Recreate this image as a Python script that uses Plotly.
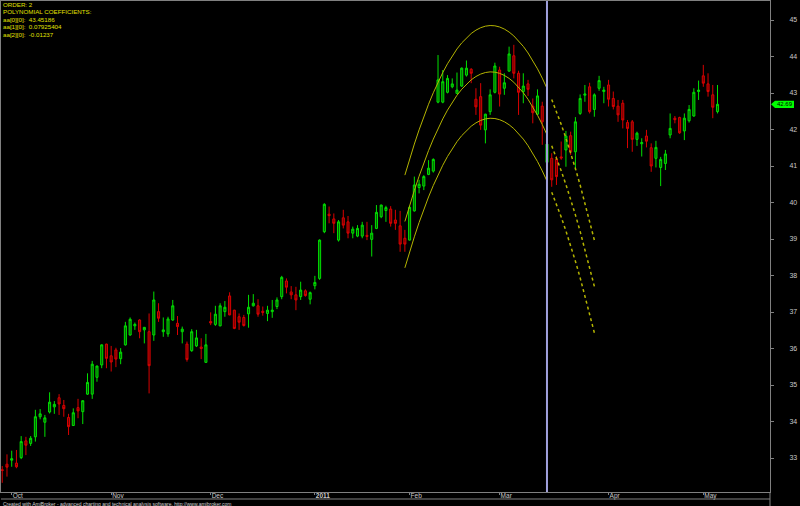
import pandas as pd
import plotly.graph_objects as go

# ---------------- data ----------------
holidays = ["2010-11-25", "2010-12-24", "2011-01-17", "2011-02-21", "2011-04-22"]
dates = [d.strftime("%Y-%m-%d") for d in pd.bdate_range("2010-09-29", "2011-05-05")
         if d.strftime("%Y-%m-%d") not in holidays]

opens = [32.68, 32.83, 32.94, 32.86, 33.01, 33.47, 33.40, 33.58, 34.13, 33.98,
         34.26, 34.40, 34.65, 34.44, 34.11, 33.89, 34.38, 34.27, 34.75, 34.75,
         35.21, 35.55, 36.12, 35.80, 35.96, 35.72, 36.10, 36.37, 36.62, 36.78,
         36.51, 36.46, 36.37, 37.01, 36.46, 36.40, 36.78, 36.69, 36.46, 36.12,
         35.94, 36.07, 36.04, 35.62, 36.74, 36.66, 36.62, 37.01, 37.44, 37.05,
         36.87, 36.85, 36.95, 37.17, 37.17, 37.02, 36.96, 37.01, 37.15, 37.42,
         37.85, 37.55, 37.47, 37.42, 37.58, 37.35, 37.72, 37.92, 39.20, 39.68,
         39.55, 38.97, 39.58, 39.47, 39.16, 39.08, 39.08, 39.10, 38.99, 39.29,
         39.61, 39.78, 39.82, 39.52, 39.36, 39.02, 38.97, 39.77, 40.41, 40.45,
         40.77, 40.86, 42.75, 42.75, 43.02, 43.17, 42.99, 43.19, 43.49, 43.65,
         42.83, 42.90, 41.99, 42.49, 43.02, 43.63, 43.13, 43.60, 44.02, 43.54,
         43.04, 43.25, 42.64, 42.42, 42.64, 41.10, 41.21, 41.19, 41.25, 41.44,
         41.83, 41.39, 42.44, 42.94, 43.17, 42.55, 43.13, 43.04, 43.22, 42.85,
         42.64, 42.72, 42.19, 42.21, 41.73, 41.61, 41.82, 41.50, 41.21, 40.96,
         41.07, 41.85, 42.31, 42.33, 41.96, 42.24, 42.37, 43.04, 43.47, 43.25,
         42.95, 42.49]
highs = [32.78, 33.10, 33.20, 33.22, 33.60, 33.58, 33.60, 34.32, 34.34, 34.18,
         34.80, 34.56, 34.75, 34.59, 34.21, 34.36, 34.62, 34.58, 35.32, 35.66,
         35.53, 36.11, 36.13, 36.07, 36.02, 36.01, 36.73, 36.85, 36.71, 36.80,
         36.59, 36.96, 37.56, 37.24, 36.85, 36.87, 37.33, 36.89, 36.60, 36.19,
         36.53, 36.51, 36.28, 36.40, 36.99, 37.17, 37.24, 37.30, 37.54, 37.06,
         36.96, 36.92, 37.47, 37.49, 37.35, 37.15, 37.17, 37.33, 37.40, 37.99,
         37.92, 37.71, 37.69, 37.83, 37.62, 37.56, 37.99, 38.99, 39.98, 39.89,
         39.70, 39.52, 39.80, 39.63, 39.34, 39.38, 39.47, 39.47, 39.38, 39.93,
         39.94, 39.91, 39.90, 39.80, 39.77, 39.25, 39.91, 40.71, 40.62, 40.75,
         41.16, 41.21, 44.04, 43.63, 43.49, 43.40, 43.56, 43.70, 43.89, 43.68,
         43.13, 43.27, 42.43, 43.10, 43.83, 43.72, 43.54, 44.27, 44.32, 43.61,
         43.54, 43.36, 42.85, 43.10, 42.76, 41.76, 41.35, 41.27, 41.67, 41.96,
         41.94, 42.34, 42.96, 43.22, 43.28, 42.99, 43.47, 43.17, 43.36, 43.04,
         42.81, 42.81, 42.26, 42.26, 41.94, 41.76, 41.99, 41.62, 41.69, 41.25,
         41.44, 42.44, 42.37, 42.35, 42.44, 42.67, 43.13, 43.34, 43.77, 43.54,
         43.22, 43.22]
lows = [32.32, 32.49, 32.76, 32.72, 32.97, 33.08, 33.33, 33.45, 34.06, 33.58,
        34.22, 34.21, 34.18, 34.13, 33.63, 33.88, 34.09, 33.93, 34.73, 34.62,
        35.09, 35.46, 35.46, 35.37, 35.49, 35.57, 36.08, 36.35, 36.51, 36.28,
        36.14, 34.77, 36.21, 36.73, 36.32, 36.32, 36.76, 36.37, 36.14, 35.64,
        35.91, 36.04, 35.71, 35.61, 36.64, 36.62, 36.61, 36.87, 36.91, 36.53,
        36.51, 36.60, 36.57, 37.15, 36.87, 36.90, 36.75, 36.84, 37.08, 37.35,
        37.51, 37.35, 37.05, 37.33, 37.42, 37.21, 37.62, 37.88, 39.16, 39.43,
        39.16, 38.93, 39.29, 39.02, 39.02, 39.05, 39.02, 38.97, 38.52, 39.27,
        39.57, 39.47, 39.34, 39.25, 38.65, 38.65, 38.96, 39.75, 40.25, 40.34,
        40.75, 40.82, 42.72, 42.72, 42.99, 43.13, 42.97, 43.17, 43.45, 43.27,
        42.40, 41.99, 41.62, 42.40, 42.99, 42.63, 42.95, 43.58, 43.40, 42.40,
        42.72, 42.92, 42.17, 42.40, 41.58, 40.80, 40.43, 40.48, 41.17, 40.98,
        41.30, 40.89, 42.40, 42.76, 42.44, 42.35, 43.06, 42.72, 42.63, 42.55,
        42.21, 42.03, 41.49, 41.39, 41.55, 41.26, 41.51, 40.84, 40.96, 40.45,
        40.89, 41.76, 42.17, 41.88, 41.71, 42.19, 42.35, 42.81, 43.17, 42.90,
        42.31, 42.44]
closes = [32.66, 32.75, 32.98, 32.76, 33.45, 33.35, 33.54, 34.13, 34.21, 34.10,
          34.53, 34.47, 34.48, 34.35, 33.86, 34.24, 34.29, 34.57, 35.07, 35.57,
          35.52, 36.10, 35.73, 35.63, 35.71, 35.90, 36.62, 36.80, 36.66, 36.46,
          36.58, 35.53, 37.33, 36.83, 36.51, 36.81, 37.17, 36.60, 36.53, 35.70,
          36.46, 36.29, 36.00, 36.10, 36.70, 36.94, 37.17, 37.13, 36.92, 36.55,
          36.72, 36.63, 37.13, 37.24, 36.94, 36.99, 37.05, 37.05, 37.33, 37.95,
          37.68, 37.47, 37.33, 37.60, 37.45, 37.53, 37.81, 38.97, 39.95, 39.64,
          39.43, 39.47, 39.38, 39.16, 39.27, 39.29, 39.38, 39.07, 39.16, 39.73,
          39.93, 39.86, 39.43, 39.43, 38.86, 38.86, 39.87, 40.48, 40.50, 40.71,
          40.94, 41.18, 43.36, 43.31, 43.40, 43.25, 43.08, 43.68, 43.68, 43.54,
          42.62, 42.12, 42.42, 42.95, 43.74, 42.97, 43.28, 44.07, 43.54, 43.02,
          43.19, 43.10, 42.46, 42.92, 42.21, 41.60, 40.62, 40.71, 41.22, 41.82,
          41.39, 42.21, 42.85, 42.97, 42.49, 42.95, 43.34, 43.08, 42.83, 42.63,
          42.40, 42.26, 42.03, 41.73, 41.90, 41.64, 41.68, 41.00, 41.51, 41.18,
          41.33, 42.03, 42.27, 41.91, 42.31, 42.55, 43.02, 43.08, 43.27, 43.04,
          42.61, 42.69]

# polynomial fit shown on the chart
poly_order = 2
poly_coefs = [43.45186, 0.07925404, -0.01237]
fit_first, fit_center, fit_last, extrap_last = 85, 100, 115, 125
band_width = 1.27

month_labels = {"2010-10": "Oct", "2010-11": "Nov", "2010-12": "Dec", "2011-01": "<b>2011</b>",
                "2011-02": "Feb", "2011-03": "Mar", "2011-04": "Apr", "2011-05": "May"}
y_ticks = list(range(33, 46))

# ---------------- helpers ----------------
W, H = 800, 506
ML, MR, MT, MB = 1, 30, 1, 14
PW, PH = W - ML - MR, H - MT - MB


def px_x(px):
    return (px - ML) / PW


def px_y(py):
    return (H - MB - py) / PH


def poly(t, off=0.0):
    return sum(c * t ** k for k, c in enumerate(poly_coefs)) + off


# ---------------- figure ----------------
fig = go.Figure()
fig.add_trace(go.Candlestick(
    x=dates, open=opens, high=highs, low=lows, close=closes,
    increasing=dict(line=dict(color="#00e000", width=1), fillcolor="#006000"),
    decreasing=dict(line=dict(color="#d80000", width=1), fillcolor="#700000"),
    whiskerwidth=0, hoverinfo="x+y",
))

curve_color = "#b4b400"
solid_idx = list(range(fit_first, fit_last + 1))
dot_idx = list(range(fit_last + 1, extrap_last + 1))
for off in (band_width, 0.0, -band_width):
    fig.add_trace(go.Scatter(
        x=[dates[i] for i in solid_idx],
        y=[poly(i - fit_center, off) for i in solid_idx],
        mode="lines", line=dict(color=curve_color, width=1), hoverinfo="skip"))
    fig.add_trace(go.Scatter(
        x=[dates[i] for i in dot_idx],
        y=[poly(i - fit_center, off) for i in dot_idx],
        mode="lines", line=dict(color=curve_color, width=1.5, dash="dot"), hoverinfo="skip"))

# month ticks: first trading day of each month
tickvals, ticktext = [], []
for d in dates:
    key = d[:7]
    if key in month_labels and key not in [t[:7] for t in tickvals]:
        tickvals.append(d)
        ticktext.append(month_labels[key])

axis_color = "#808080"
label_color = "#c8c8c8"
font_family = "Liberation Sans, Arial, sans-serif"

fig.update_layout(
    width=W, height=H, margin=dict(l=ML, r=MR, t=MT, b=MB),
    paper_bgcolor="black", plot_bgcolor="black", showlegend=False,
    boxgap=0.38,
    font=dict(family=font_family, color=label_color, size=7),
    xaxis=dict(type="category", range=[-0.26, 162.08], tickvals=tickvals, ticktext=ticktext,
               ticks="outside", ticklen=2, tickcolor=axis_color, ticklabelposition="outside right",
               ticklabelstandoff=-3,
               tickfont=dict(size=6.5, color=label_color), showgrid=False, zeroline=False,
               showline=True, linecolor=axis_color, mirror=True,
               rangeslider=dict(visible=False), fixedrange=True),
    yaxis=dict(side="right", range=[45.548 - (H - MB) / 36.5, 45.548 - MT / 36.5],
               tickvals=y_ticks, ticks="outside", ticklen=3, tickcolor=axis_color,
               tickfont=dict(size=7, color=label_color), ticklabelstandoff=14,
               showgrid=False, zeroline=False, showline=True, linecolor=axis_color,
               mirror=True, fixedrange=True),
)

# selected-bar vertical line
fig.add_shape(type="line", xref="x", yref="paper", x0=dates[fit_last], x1=dates[fit_last],
              y0=0, y1=1, line=dict(color="#a0a0dc", width=2), layer="above")
# lower strip lines
fig.add_shape(type="line", xref="paper", yref="paper", x0=0, x1=1,
              y0=px_y(499), y1=px_y(499), line=dict(color=axis_color, width=1))
fig.add_shape(type="line", xref="paper", yref="paper", x0=1, x1=1,
              y0=px_y(506), y1=0, line=dict(color=axis_color, width=1))

# last price label
last = closes[-1]
hh = 3.6 / 36.5
xt, xl, xr = px_x(771), px_x(775), px_x(794)
fig.add_shape(type="path", xref="paper", yref="y",
              path=f"M {xt},{last} L {xl},{last + hh} L {xr},{last + hh} L {xr},{last - hh} L {xl},{last - hh} Z",
              fillcolor="#00ff00", line=dict(width=0))
fig.add_annotation(xref="paper", yref="y", x=(xl + xr) / 2, y=last, text=f"{last:.2f}",
                   xanchor="center", yanchor="middle",
                   showarrow=False, font=dict(size=6, color="#000000", family=font_family))

# info text
info_lines = ["ORDER: %d" % poly_order, "POLYNOMIAL COEFFICIENTS:",
              "aa[0][0]:  %.5f" % poly_coefs[0], "aa[1][0]:  %.8f" % poly_coefs[1],
              "aa[2][0]:  %.5f" % poly_coefs[2]]
for k, line in enumerate(info_lines):
    fig.add_annotation(xref="paper", yref="paper", x=px_x(1), y=px_y(4.3 + 7.5 * k),
                       xanchor="left", yanchor="middle", text=line, showarrow=False,
                       font=dict(size=6.2, color="#e0e000", family=font_family))

fig.add_annotation(xref="paper", yref="paper", x=px_x(1), y=px_y(503.5), xanchor="left",
                   yanchor="middle", showarrow=False,
                   text="Created with AmiBroker - advanced charting and technical analysis software. http://www.amibroker.com",
                   font=dict(size=5, color="#d0d0d0", family=font_family))

fig.write_html("out.html", config={"displayModeBar": False},
               post_script="document.body.style.margin='0';document.body.style.overflow='hidden';")
